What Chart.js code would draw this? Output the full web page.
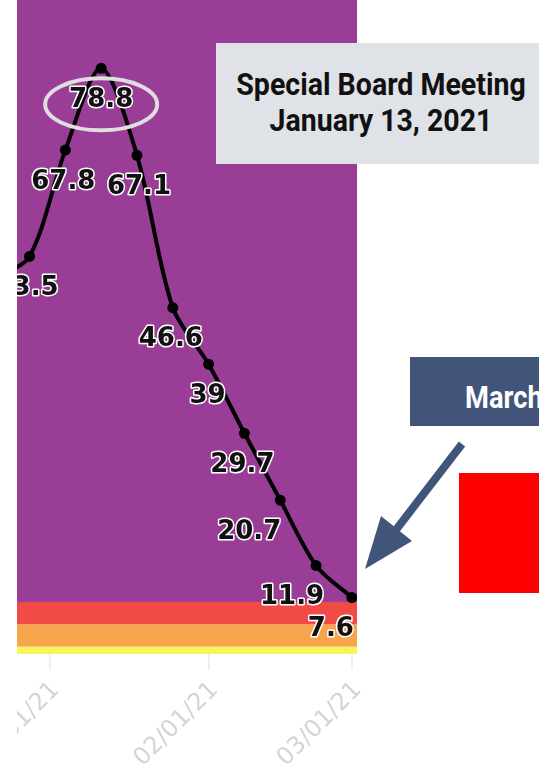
<!DOCTYPE html>
<html>
<head>
<meta charset="utf-8">
<script src="https://cdn.jsdelivr.net/npm/chart.js@4.4.1/dist/chart.umd.min.js"></script>
<style>
  html, body { margin: 0; padding: 0; background: #fff; }
  body { position: relative; width: 539px; height: 768px; overflow: hidden; }
  #wrap { position: absolute; left: 17px; top: 0; width: 522px; height: 768px; }
  .note { position: absolute; font-family: Roboto, sans-serif; font-weight: 700; overflow: hidden; }
  .note span { display: block; white-space: nowrap; }
  #meeting { left: 216px; top: 43px; width: 330px; height: 121px; background: #dfe2e7; color: #111; text-align: center; }
  #meeting span { font-size: 31px; line-height: 36px; transform: scaleX(0.92); }
  #meeting span:first-child { margin-top: 24px; }
  #march { left: 410px; top: 357px; width: 140px; height: 69px; background: #41547a; color: #fff; }
  #march span { position: absolute; left: 55px; top: 25px; font-size: 31px; line-height: 31px; transform: scaleX(0.88); transform-origin: left center; }
  #redbox { position: absolute; left: 459px; top: 473px; width: 90px; height: 120px; background: #ff0000; }
  #arrow { position: absolute; left: 0; top: 0; }
</style>
</head>
<body>
<div id="wrap"><canvas id="casesChart"></canvas></div>
<div class="note" id="meeting"><span>Special Board Meeting</span><span>January 13, 2021</span></div>
<div class="note" id="march"><span>March</span></div>
<div id="redbox"></div>
<svg id="arrow" width="539" height="768">
  <line x1="462" y1="444" x2="392" y2="535" stroke="#41547a" stroke-width="8"/>
  <polygon points="365,569 381,516 412,541" fill="#41547a"/>
</svg>
<script>
// weekly case rate (per 100k)
const weekDates = ['2020-12-21', '2020-12-28', '2021-01-04', '2021-01-11', '2021-01-18', '2021-01-25',
  '2021-02-01', '2021-02-08', '2021-02-15', '2021-02-22', '2021-03-01'];
const caseRates = [50.5, 53.5, 67.8, 78.8, 67.1, 46.6, 39, 29.7, 20.7, 11.9, 7.6];

// x axis ticks
const tickDates = ['2021-01-01', '2021-02-01', '2021-03-01'];
const tickLabels = ['01/01/21', '02/01/21', '03/01/21'];

// tier bands behind the line (yellow, orange, red, purple)
const bandLimits = [0, 1, 4, 7, 88];
const bandColors = ['#f9f35c', '#f6a54a', '#f24b47', '#9a3d97'];

// horizontal nudge of each value label
const labelDx = [0, -3, -2, 0, 2, -2, -1, -2, -31, -24, -21];

const dayOf = (s) => Math.round((Date.parse(s) - Date.parse('2021-01-01')) / 86400000);
const tickDays = tickDates.map(dayOf);

const bandsPlugin = {
  id: 'bands',
  beforeDatasetsDraw(chart) {
    const { ctx, chartArea: a, scales: { y } } = chart;
    ctx.save();
    for (let i = 0; i < bandColors.length; i++) {
      const top = y.getPixelForValue(bandLimits[i + 1]);
      const bottom = y.getPixelForValue(bandLimits[i]);
      ctx.fillStyle = bandColors[i];
      ctx.fillRect(a.left, top, a.right - a.left, bottom - top);
    }
    ctx.restore();
  }
};

const labelsPlugin = {
  id: 'valueLabels',
  afterDatasetsDraw(chart) {
    const { ctx, chartArea: a } = chart;
    const meta = chart.getDatasetMeta(0);
    ctx.save();
    ctx.font = 'bold 26px "DejaVu Sans"';
    ctx.textAlign = 'center';
    ctx.textBaseline = 'middle';
    ctx.lineJoin = 'round';
    meta.data.forEach((pt, i) => {
      if (pt.x < a.left - 20) return;
      const tx = pt.x + labelDx[i];
      const ty = pt.y + 32;
      const txt = String(caseRates[i]);
      ctx.lineWidth = 3;
      ctx.strokeStyle = '#fff';
      ctx.strokeText(txt, tx, ty);
      ctx.fillStyle = '#111';
      ctx.fillText(txt, tx, ty);
    });
    // circle the peak value
    const peak = caseRates.indexOf(Math.max(...caseRates));
    const p = meta.data[peak];
    ctx.beginPath();
    ctx.ellipse(p.x, p.y + 36, 56, 26, 0, 0, Math.PI * 2);
    ctx.lineWidth = 4;
    ctx.strokeStyle = '#dedede';
    ctx.stroke();
    ctx.restore();
  }
};

new Chart(document.getElementById('casesChart'), {
  type: 'line',
  data: {
    datasets: [{
      data: weekDates.map((d, i) => ({ x: dayOf(d), y: caseRates[i] })),
      borderColor: '#000',
      borderWidth: 4,
      pointRadius: 5.5,
      pointBackgroundColor: '#000',
      pointBorderWidth: 0,
      tension: 0.3
    }]
  },
  options: {
    responsive: true,
    maintainAspectRatio: false,
    animation: false,
    layout: { autoPadding: false, padding: { left: 0, right: 182, top: 0, bottom: 0 } },
    plugins: { legend: { display: false }, tooltip: { enabled: false } },
    scales: {
      x: {
        type: 'linear',
        min: -6.45,
        max: 60,
        afterBuildTicks: (s) => { s.ticks = tickDays.map((v) => ({ value: v })); },
        afterFit: (s) => { s.height = 114; s.paddingLeft = 0; s.paddingRight = 0; },
        ticks: {
          autoSkip: false,
          minRotation: 45,
          maxRotation: 45,
          color: '#d4d4d4',
          padding: 6,
          labelOffset: 6,
          font: { family: 'DejaVu Sans', size: 24 },
          callback: (v, i) => tickLabels[i]
        },
        grid: { drawOnChartArea: false, drawTicks: true, tickLength: 16, color: '#efefef', lineWidth: 2 },
        border: { display: false }
      },
      y: { display: false, min: 0, max: 88 }
    }
  },
  plugins: [bandsPlugin, labelsPlugin]
});
</script>
</body>
</html>
